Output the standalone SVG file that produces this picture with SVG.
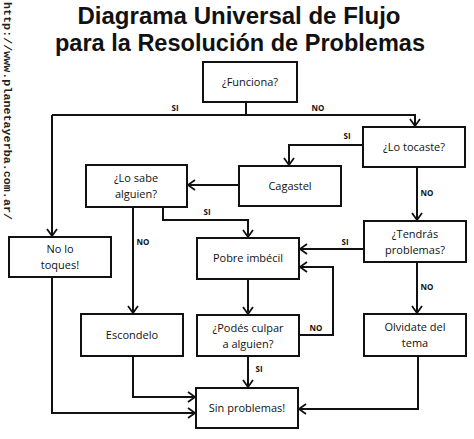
<svg xmlns="http://www.w3.org/2000/svg" width="474" height="439" viewBox="0 0 474 439">
<style>
.box{fill:#fff;stroke:#111;stroke-width:2}
.t{font-family:"Open Sans","Noto Sans",sans-serif;font-size:11px;fill:#111;text-anchor:middle}
.lbl{font-family:"Open Sans","Noto Sans",sans-serif;font-size:8px;font-weight:bold;fill:#111;text-anchor:middle}
.title{font-family:"Liberation Sans",Arial,sans-serif;font-size:23px;font-weight:bold;fill:#111;text-anchor:middle}
.url{font-family:"Liberation Mono",monospace;font-size:11.5px;font-weight:bold;fill:#222}
.c{fill:none;stroke:#111;stroke-width:2}
</style>
<defs>
<marker id="a" markerWidth="12" markerHeight="12" refX="10" refY="6" orient="auto" markerUnits="userSpaceOnUse">
<polyline points="3,1 10,6 3,11" fill="none" stroke="#111" stroke-width="1.8"/>
</marker>
</defs>
<rect width="474" height="439" fill="#fff"/>
<text class="url" transform="translate(4,2) rotate(90)" textLength="218" lengthAdjust="spacingAndGlyphs">http://www.planetayerba.com.ar/</text>
<text class="title" x="239" y="24" textLength="323" lengthAdjust="spacingAndGlyphs">Diagrama Universal de Flujo</text>
<text class="title" x="240" y="51" textLength="370" lengthAdjust="spacingAndGlyphs">para la Resolución de Problemas</text>
<g id="connectors">
<polyline class="c" points="246,102 246,115"/>
<polyline class="c" points="52,115 415,115 415,126" marker-end="url(#a)"/>
<polyline class="c" points="52,115 52,236" marker-end="url(#a)"/>
<polyline class="c" points="363,145 289,145 289,165" marker-end="url(#a)"/>
<polyline class="c" points="239,185 188,185" marker-end="url(#a)"/>
<polyline class="c" points="163,207 163,220 248,220 248,237" marker-end="url(#a)"/>
<polyline class="c" points="133,207 133,313" marker-end="url(#a)"/>
<polyline class="c" points="417,167 417,220" marker-end="url(#a)"/>
<polyline class="c" points="364,249 300,249" marker-end="url(#a)"/>
<polyline class="c" points="417,262 417,313" marker-end="url(#a)"/>
<polyline class="c" points="248,279 248,314" marker-end="url(#a)"/>
<polyline class="c" points="299,335 333,335 333,267 300,267" marker-end="url(#a)"/>
<polyline class="c" points="248,356 248,387" marker-end="url(#a)"/>
<polyline class="c" points="133,356 133,397 195,397" marker-end="url(#a)"/>
<polyline class="c" points="52,277 52,413 195,413" marker-end="url(#a)"/>
<polyline class="c" points="418,356 418,409 299,409" marker-end="url(#a)"/>
<text class="lbl" x="175" y="111">SI</text>
<text class="lbl" x="318" y="111">NO</text>
<text class="lbl" x="347" y="139">SI</text>
<text class="lbl" x="207" y="215">SI</text>
<text class="lbl" x="143" y="245">NO</text>
<text class="lbl" x="427" y="196">NO</text>
<text class="lbl" x="345" y="245">SI</text>
<text class="lbl" x="427" y="290">NO</text>
<text class="lbl" x="316" y="331">NO</text>
<text class="lbl" x="259" y="372">SI</text>
</g>
<g id="funciona"><rect class="box" x="203" y="62" width="94" height="40"/><text class="t" x="250" y="86">¿Funciona?</text></g>
<g id="tocaste"><rect class="box" x="363" y="127" width="102" height="40"/><text class="t" x="414" y="151">¿Lo tocaste?</text></g>
<g id="cagastel"><rect class="box" x="239" y="166" width="102" height="40"/><text class="t" x="290" y="190">Cagastel</text></g>
<g id="losabe"><rect class="box" x="86" y="165" width="101" height="42"/><text class="t" x="136" y="182">¿Lo sabe</text><text class="t" x="136" y="198">alguien?</text></g>
<g id="nolotoques"><rect class="box" x="9" y="237" width="102" height="40"/><text class="t" x="60" y="253">No lo</text><text class="t" x="60" y="269">toques!</text></g>
<g id="pobre"><rect class="box" x="197" y="238" width="102" height="41"/><text class="t" x="248" y="262">Pobre imbécil</text></g>
<g id="tendras"><rect class="box" x="364" y="221" width="102" height="41"/><text class="t" x="415" y="238">¿Tendrás</text><text class="t" x="415" y="254">problemas?</text></g>
<g id="escondelo"><rect class="box" x="81" y="314" width="102" height="42"/><text class="t" x="132" y="339">Escondelo</text></g>
<g id="podes"><rect class="box" x="197" y="315" width="102" height="41"/><text class="t" x="248" y="332">¿Podés culpar</text><text class="t" x="248" y="348">a alguien?</text></g>
<g id="olvidate"><rect class="box" x="364" y="314" width="102" height="42"/><text class="t" x="415" y="331">Olvidate del</text><text class="t" x="415" y="347">tema</text></g>
<g id="sinproblemas"><rect class="box" x="196" y="388" width="102" height="40"/><text class="t" x="247" y="412">Sin problemas!</text></g>
</svg>
